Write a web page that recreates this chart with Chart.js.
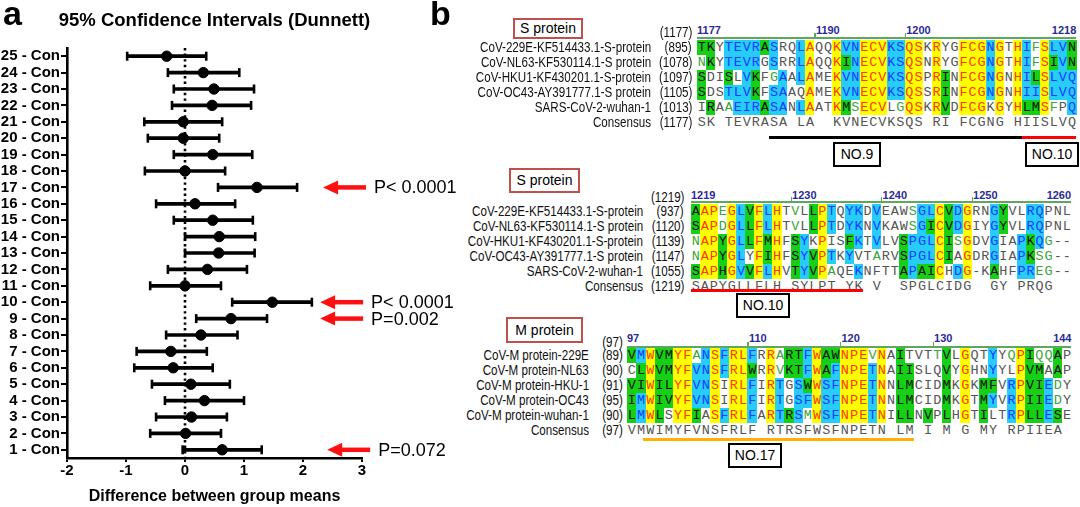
<!DOCTYPE html>
<html>
<head>
<meta charset="utf-8">
<title>Dunnett CI and alignment</title>
<script src="https://cdn.jsdelivr.net/npm/chart.js@4.4.1/dist/chart.umd.min.js"></script>
<style>
  html, body { margin: 0; padding: 0; background: #fff; }
  #fig { position: relative; width: 1080px; height: 507px; overflow: hidden; font-family: Arial, "Liberation Sans", sans-serif; color: #000; }
  #chartA { position: absolute; left: 0; top: 0; }
  .panel { position: absolute; font-weight: bold; font-size: 34px; line-height: 34px; }
  .t { position: absolute; white-space: nowrap; line-height: 15px; font-size: 14px; color: #111; transform: scaleX(0.83); transform-origin: 100% 50%; }
  .r { position: absolute; text-align: center; font-family: "Liberation Mono", "DejaVu Sans Mono", monospace; font-size: 13.5px; line-height: 15px; height: 15px; }
  .num { position: absolute; white-space: nowrap; font-size: 11px; line-height: 12px; font-weight: bold; color: #2b2b96; }
  .box { position: absolute; box-sizing: border-box; background: #fff; text-align: center; white-space: nowrap; }
  .ln { position: absolute; }
</style>
</head>
<body>
<div id="fig">
  <canvas id="chartA" width="465" height="507"></canvas>
  <div class="panel" style="left:3px;top:-4px">a</div>
  <div class="panel" style="left:430px;top:-4px">b</div>
  <div id="panelB"></div>
</div>
<script>
'use strict';

/* PANEL A DATA */
const chartTitle = '95% Confidence Intervals (Dunnett)';
const axisTitle = 'Difference between group means';
const groups = ['25 - Con','24 - Con','23 - Con','22 - Con','21 - Con','20 - Con','19 - Con','18 - Con','17 - Con','16 - Con','15 - Con','14 - Con','13 - Con','12 - Con','11 - Con','10 - Con','9 - Con','8 - Con','7 - Con','6 - Con','5 - Con','4 - Con','3 - Con','2 - Con','1 - Con'];
const diffMean = [-0.31, 0.31, 0.49, 0.46, -0.03, -0.03, 0.47, 0.00, 1.22, 0.17, 0.47, 0.58, 0.57, 0.38, 0.00, 1.48, 0.78, 0.27, -0.24, -0.20, 0.10, 0.33, 0.11, 0.01, 0.63];
const ciLow = [-0.98, -0.29, -0.19, -0.22, -0.69, -0.63, -0.19, -0.68, 0.56, -0.49, -0.19, 0.00, 0.00, -0.29, -0.59, 0.80, 0.19, -0.32, -0.82, -0.86, -0.56, -0.34, -0.49, -0.59, -0.04];
const ciHigh = [0.36, 0.92, 1.17, 1.12, 0.63, 0.58, 1.14, 0.68, 1.90, 0.85, 1.15, 1.19, 1.18, 1.05, 0.61, 2.15, 1.39, 0.89, 0.37, 0.47, 0.76, 1.00, 0.71, 0.61, 1.30];
const xMin = -2, xMax = 3;
const pGroups = ['17 - Con', '10 - Con', '9 - Con', '1 - Con'];
const pLabels = ['P< 0.0001', 'P< 0.0001', 'P=0.002', 'P=0.072'];
const pArrowTip = [2.34, 2.29, 2.29, 2.41];

/* PANEL B DATA */
const blockTitles = ['S protein', 'S protein', 'M protein'];
const blockStart = [1177, 1219, 97];
const blockRuler = [[1177, 1190, 1200, 1218], [1219, 1230, 1240, 1250, 1260], [97, 110, 120, 130, 144]];
const sNames = ['CoV-229E-KF514433.1-S-protein', 'CoV-NL63-KF530114.1-S protein', 'CoV-HKU1-KF430201.1-S-protein', 'CoV-OC43-AY391777.1-S protein', 'SARS-CoV-2-wuhan-1', 'Consensus'];
const mNames = ['CoV-M protein-229E', 'CoV-M protein-NL63', 'CoV-M protein-HKU-1', 'CoV-M protein-OC43', 'CoV-M protein-wuhan-1', 'Consensus'];
const blockNames = [sNames, sNames, mNames];
const blockOffsets = [[895, 1078, 1097, 1105, 1013, 1177], [937, 1120, 1139, 1147, 1055, 1219], [89, 90, 91, 95, 90, 97]];
const blockSeqs = [
  ['TKYTEVRASRQLAQQKVNECVKSQSKRYGFCGNGTHIFSLVN',
   'NKYTEVRGSRRLAQQKINECVKSQSNRYGFCGNGTHIFSIVN',
   'SDISLVKFGAALAMEKVNECVKSQSPRINFCGNGNHILSLVQ',
   'SDSTLVKFSAAQAMEKVNECVKSQSSRINFCGNGNHIISLVQ',
   'IRAAEIRASANLAATKMSECVLGQSKRVDFCGKGYHLMSFPQ',
   'SK TEVRASA LA  KVNECVKSQS RI FCGNG HIISLVQ'],
  ['AAPEGLVFLHTVLLPTQYKDVEAWSGLCVDGRNGYVLRQPNL',
   'SAPDGLLFLHTVLLPTDYKNVKAWSGICVDGIYGYVLRQPNL',
   'NAPYGLLFMHFSYKPISFKTVLVSPGLCISGDVGIAPKQG--',
   'NAPYGLYFIHFSYVPTKYVTARVSPGLCIAGDRGIAPKSG--',
   'SAPHGVVFLHVTYVPAQEKNFTTAPAICHDG-KAHFPREG--',
   'SAPYGLLFLH SYLPT YK V  SPGLCIDG  GY PRQG  '],
  ['VMWVMYFANSFRLFRRARTFWAWNPEVNAITVTTVLGQTYYQPIQQAP',
   'CLWVMYFVNSFRLWRRVKTFWAFNPETNAIISLQVYGHNYYLPVMAAP',
   'VIWILYFVNSIRLFIRTGSWWSFNPETNNLMCIDMKGKMFVRPVIEDY',
   'IMWIVYFVNSIRLFIRTGSFWSFNPETNNLMCIDMKGTMYVRPIIEDY',
   'LMWLSYFIASFRLFARTRSMWSFNPETNILLNVPLHGTILTRPLLESE',
   'VMWIMYFVNSFRLF RTRSFWSFNPETN LM I M G MY RPIIEA ']
];
/* shading class per residue: Y identical, C conserved, G similar, g weakly similar, . none */
const blockShade = [
  ['GG.CCCCGC..CY..YCCYYYCCYY.Y..YYYCY.YCgYCCG',
   'gG.CCCC.C..CY..YGCYYYCCYY.Y..YYYCY.YCgYGCG',
   'G..G.CG.gC.CY..YCCYYYCCYY.YG.YYYCY.YCGYCCC',
   'G..CCCG.CC..Y..YCCYYYCCYY.YG.YYYCY.YCCYCCC',
   '.G.gCCCGCC.CY..YGgYYY.gYY.YG.YYY.Y.YGGYg.C'],
  ['GYYgYCGYCY.g.GYC.CC.C...gCCYGCY..CG..CC...',
   'GYYgYCGYCY.g.GYC.CC.C...gCGYGCY..CG..CC...',
   'gYYGYCGYGY.GC.Y..GC.C..GCCCYGgY..C..CGCg..',
   'gYYGYC.YGY.GCGYC.C..g..GCCCYG.Y..C..CGgg..',
   'GYYGYCGYCY.GCGYg..C....GCGGY.CY..G..CCgg..'],
  ['GCYGGYYgCYCYYC.YgGGCYGGYYYgY.G...gG.Y..C.gYGggG.',
   '.GYGGYYCCYCYYG.YgGGCYGCYYYCY.GG...G.Y..C..YGG.G.',
   'GGYGGYYCCY.YYC.YC.CGYCCYYYCY.GG...G.Y.GG.CYGGCg.',
   'GCYGGYYCCY.YYC.YC.CCYCCYYYCY.GG...G.Y.GC.CYGGCg.',
   'GCYG.YYG.YCYYC.YCGCgYCCYYYCY.GG.G.G.Y.G..CYGGCG.']
];
/* epitope marks under the consensus: [block, first col edge, last col edge, colour] */
const epiBars = [[0, 8, 36, '#000'], [0, 36, 42, '#ff0000'], [1, 0, 19, '#ff0000'], [2, 1.7, 31, '#ffb000']];
const epiLabels = ['NO.9', 'NO.10', 'NO.10', 'NO.17'];

/* PANEL A CHART */
const zeroLine = {
  id: 'zeroLine',
  beforeDatasetsDraw(chart) {
    const { ctx, chartArea, scales } = chart;
    const x = scales.x.getPixelForValue(0);
    ctx.save();
    ctx.strokeStyle = '#000';
    ctx.lineWidth = 2.6;
    ctx.setLineDash([2.4, 3.2]);
    ctx.beginPath();
    ctx.moveTo(x, chartArea.top);
    ctx.lineTo(x, chartArea.bottom);
    ctx.stroke();
    ctx.restore();
  }
};

const extras = {
  id: 'extras',
  afterDraw(chart) {
    const { ctx, chartArea, scales } = chart;
    ctx.save();
    ctx.fillStyle = '#000';
    ctx.font = 'bold 18.5px Arial, "Liberation Sans"';
    ctx.textAlign = 'center';
    ctx.textBaseline = 'middle';
    ctx.fillText(chartTitle, (chartArea.left + chartArea.right) / 2, 21);
    // red arrows with p values
    pGroups.forEach((g, i) => {
      const y = scales.y.getPixelForValue(groups.indexOf(g));
      const tip = scales.x.getPixelForValue(pArrowTip[i]);
      const tail = tip + 43;
      ctx.fillStyle = '#ff1010';
      ctx.strokeStyle = '#ff1010';
      ctx.lineWidth = 4.5;
      ctx.beginPath();
      ctx.moveTo(tip + 12, y);
      ctx.lineTo(tail, y);
      ctx.stroke();
      ctx.beginPath();
      ctx.moveTo(tip, y);
      ctx.lineTo(tip + 15, y - 7);
      ctx.lineTo(tip + 15, y + 7);
      ctx.closePath();
      ctx.fill();
      ctx.fillStyle = '#000';
      ctx.font = '18px Arial, "Liberation Sans"';
      ctx.textAlign = 'left';
      ctx.fillText(pLabels[i], tail + 8, y + 1);
    });
    ctx.restore();
  }
};

const boldFont = size => ({ family: 'Arial, "Liberation Sans"', size, weight: 'bold' });
const capStyle = { type: 'line', showLine: false, pointStyle: 'line', rotation: 90, pointRadius: 4.5, pointBorderWidth: 2.6, borderColor: '#000', backgroundColor: '#000' };

new Chart(document.getElementById('chartA'), {
  type: 'bar',
  data: {
    labels: groups,
    datasets: [
      { data: groups.map((g, i) => [ciLow[i], ciHigh[i]]), backgroundColor: '#000', barThickness: 3, borderSkipped: false },
      Object.assign({ data: ciLow }, capStyle),
      Object.assign({ data: ciHigh }, capStyle),
      { type: 'line', data: diffMean, showLine: false, pointStyle: 'circle', pointRadius: 5.2, borderColor: '#000', backgroundColor: '#000' }
    ]
  },
  options: {
    indexAxis: 'y',
    responsive: false,
    animation: false,
    layout: { padding: { top: 48, right: 103, left: 0, bottom: 0 } },
    plugins: { legend: { display: false }, tooltip: { enabled: false } },
    scales: {
      x: {
        type: 'linear', min: xMin, max: xMax,
        ticks: { stepSize: 1, color: '#000', font: boldFont(15), padding: 0 },
        grid: { drawOnChartArea: false, tickLength: 4, color: '#000', lineWidth: 2 },
        border: { color: '#000', width: 2.6 },
        title: { display: true, text: axisTitle, color: '#000', font: boldFont(16), padding: { top: 0, bottom: 1 } },
        afterFit(s) { s.height = 49; }
      },
      y: {
        type: 'category',
        ticks: { color: '#000', font: boldFont(15), padding: 1, autoSkip: false },
        grid: { offset: false, drawOnChartArea: false, tickLength: 6, color: '#000', lineWidth: 2 },
        border: { color: '#000', width: 2.6 },
        afterFit(s) { s.width = 67; }
      }
    }
  },
  plugins: [zeroLine, extras]
});

/* PANEL B ALIGNMENTS */
const blockLayout = [
  { x0: 697, cw: 9.03, rowY: 47, hdrY: 32, numY: 30, lineY: 37, nameRight: 651, numRight: 692, box: [513, 18, 70, 21], barY: 136, noBoxes: [[833, 142], [1025, 142]] },
  { x0: 691, cw: 9.05, rowY: 211, hdrY: 197, numY: 195, lineY: 201, nameRight: 643, numRight: 684, box: [509, 168, 71, 25], barY: 289, noBoxes: [[736, 293]] },
  { x0: 627, cw: 9.26, rowY: 355, hdrY: 342, numY: 338, lineY: 346, nameRight: 589, numRight: 623, box: [506, 317, 77, 26], barY: 438, noBoxes: [[728, 443]] }
];
const shadeColors = {
  Y: ['#ffff00', '#ff3a00'],
  C: ['#25cdf8', '#1a3cff'],
  G: ['#16d016', '#111'],
  g: ['#ffffff', '#3aa53a'],
  '.': ['#ffffff', '#555']
};

const pb = document.getElementById('panelB');
function addDiv(cls, css, text) {
  const d = document.createElement('div');
  d.className = cls;
  d.style.cssText = css;
  if (text != null) d.textContent = text;
  pb.appendChild(d);
  return d;
}

blockLayout.forEach((L, b) => {
  const seqs = blockSeqs[b];
  const ncol = seqs[0].length;
  const colX = c => L.x0 + c * L.cw;
  // title box
  const [bx, by, bw, bh] = L.box;
  addDiv('box', `left:${bx}px;top:${by}px;width:${bw}px;height:${bh}px;border:2px solid #c0504d;font-size:14px;line-height:${bh - 4}px;`, blockTitles[b]);
  // header number
  addDiv('t', `right:${1080 - L.numRight}px;top:${L.hdrY - 7.5}px;`, '(' + blockStart[b] + ')');
  // ruler
  addDiv('ln', `left:${colX(0)}px;top:${L.lineY}px;width:${ncol * L.cw}px;height:1.6px;background:#5ea85e;`);
  blockRuler[b].forEach((n, k, arr) => {
    const c = n - blockStart[b];
    if (k === 0) addDiv('num', `left:${colX(0)}px;top:${L.numY - 6}px;`, String(n));
    else if (k === arr.length - 1) addDiv('num', `right:${1080 - colX(ncol)}px;top:${L.numY - 6}px;`, String(n));
    else {
      addDiv('ln', `left:${colX(c)}px;top:${L.lineY - 4}px;width:1.2px;height:4px;background:#5ea85e;`);
      addDiv('num', `left:${colX(c) + 1.5}px;top:${L.numY - 6}px;`, String(n));
    }
  });
  // rows
  seqs.forEach((s, r) => {
    const y = L.rowY + r * 15;
    addDiv('t', `right:${1080 - L.nameRight}px;top:${y - 7.5}px;`, blockNames[b][r]);
    addDiv('t', `right:${1080 - L.numRight}px;top:${y - 7.5}px;`, '(' + blockOffsets[b][r] + ')');
    const shade = r < 5 ? blockShade[b][r] : '';
    for (let c = 0; c < ncol; c++) {
      const ch = s[c];
      if (ch === ' ') continue;
      const [bg, fg] = shadeColors[shade[c] || '.'];
      addDiv('r', `left:${colX(c)}px;top:${y - 7.5}px;width:${L.cw + 0.4}px;background:${bg};color:${fg};`, ch);
    }
  });
});

// epitope underlines and labels
epiBars.forEach(([b, c0, c1, col]) => {
  const L = blockLayout[b];
  const x = L.x0 + c0 * L.cw;
  addDiv('ln', `left:${x}px;top:${L.barY}px;width:${(c1 - c0) * L.cw}px;height:2.6px;background:${col};`);
});
let li = 0;
blockLayout.forEach(L => {
  L.noBoxes.forEach(([x, y]) => {
    const w = epiLabels[li].length > 4 ? 54 : 48;
    addDiv('box', `left:${x}px;top:${y}px;width:${w}px;height:25px;border:2px solid #000;font-size:14px;line-height:21px;`, epiLabels[li]);
    li++;
  });
});
</script>
</body>
</html>
